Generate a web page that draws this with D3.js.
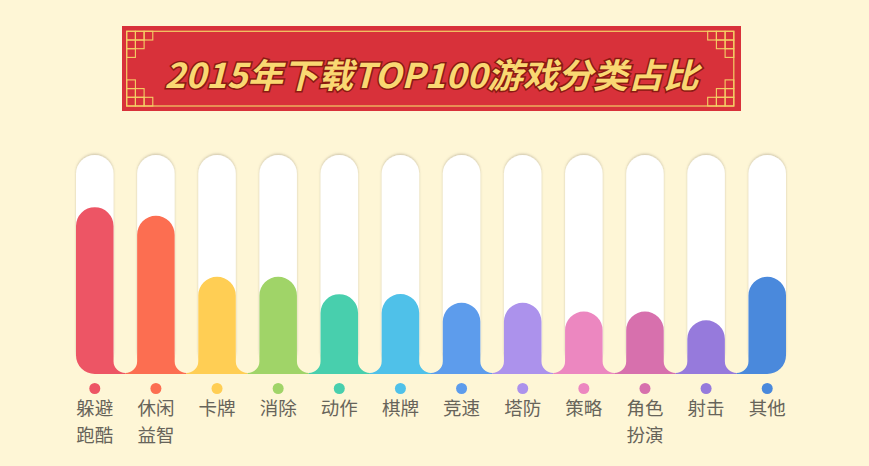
<!DOCTYPE html>
<html>
<head>
<meta charset="utf-8">
<script src="https://cdn.jsdelivr.net/npm/d3@7"></script>
<style>
  html, body { margin: 0; padding: 0; background: #fef6d6; }
  svg { display: block; }
</style>
</head>
<body>
<div id="chart"></div>
<script>
// data (share of TOP100, %)
const categories = ["躲避跑酷", "休闲益智", "卡牌", "消除", "动作", "棋牌", "竞速", "塔防", "策略", "角色扮演", "射击", "其他"];
const values = [17, 16, 9, 9, 7, 7, 6, 6, 5, 5, 4, 9];
const colors = ["#ed5565", "#fc6e51", "#ffce54", "#a0d468", "#48cfad", "#4fc1e9", "#5d9cec", "#ac92ec", "#ec87c0", "#d770ad", "#967adc", "#4a89dc"];
const title = "2015年下载TOP100游戏分类占比";

const width = 869;
const height = 466;
const baseY = 374;

const svg = d3.select("#chart").append("svg")
  .attr("width", width)
  .attr("height", height);

svg.append("rect").attr("width", width).attr("height", height).attr("fill", "#fef6d6");

const defs = svg.append("defs");
const shadow = defs.append("filter").attr("id", "trackShadow")
  .attr("x", "-30%").attr("y", "-10%").attr("width", "160%").attr("height", "130%");
shadow.append("feDropShadow")
  .attr("dx", 0).attr("dy", -1.2).attr("stdDeviation", 1)
  .attr("flood-color", "#7a7060").attr("flood-opacity", 0.35);

// ---- banner ----
const banner = { x: 122, y: 26, w: 619, h: 85 };
const gold = "#f4cf66";
const b = svg.append("g");
b.append("rect")
  .attr("x", banner.x).attr("y", banner.y)
  .attr("width", banner.w).attr("height", banner.h)
  .attr("fill", "#d8313a");

const inner = { x0: 126.7, y0: 31.3, x1: 733.8, y1: 106 };
b.append("rect")
  .attr("x", inner.x0).attr("y", inner.y0)
  .attr("width", inner.x1 - inner.x0).attr("height", inner.y1 - inner.y0)
  .attr("fill", "none").attr("stroke", gold).attr("stroke-width", 1.2);

// lattice corners: staircase of small squares
const cell = 8.7;
const stairs = [[0, 0], [1, 0], [2, 0], [0, 1], [1, 1], [0, 2]];
const corners = [
  { x: inner.x0, y: inner.y0, sx: 1, sy: 1 },
  { x: inner.x1, y: inner.y0, sx: -1, sy: 1 },
  { x: inner.x0, y: inner.y1, sx: 1, sy: -1 },
  { x: inner.x1, y: inner.y1, sx: -1, sy: -1 }
];
corners.forEach(c => {
  b.selectAll(null).data(stairs).enter().append("rect")
    .attr("x", d => c.sx > 0 ? c.x + d[0] * cell : c.x - (d[0] + 1) * cell)
    .attr("y", d => c.sy > 0 ? c.y + d[1] * cell : c.y - (d[1] + 1) * cell)
    .attr("width", cell).attr("height", cell)
    .attr("fill", "none").attr("stroke", gold).attr("stroke-width", 1.1);
});

b.append("text")
  .attr("x", banner.x + banner.w / 2)
  .attr("y", 73)
  .attr("text-anchor", "middle")
  .attr("dominant-baseline", "central")
  .attr("font-family", "'Noto Sans CJK SC', sans-serif")
  .attr("font-size", 34)
  .attr("font-weight", 700)
  .attr("font-style", "italic")
  .attr("textLength", 534)
  .attr("lengthAdjust", "spacingAndGlyphs")
  .attr("fill", "#f9d872")
  .attr("stroke", "#8a1b12")
  .attr("stroke-width", 3)
  .attr("paint-order", "stroke")
  .text(title);

// ---- scales ----
const x = d3.scaleBand()
  .domain(categories)
  .range([76, 786])
  .paddingInner(0.386)
  .paddingOuter(0);

const y = d3.scaleLinear()
  .domain([0, 23])
  .range([355, 155]);

const w = x.bandwidth();
const r = w / 2;
const gapR = (x.step() - w) / 2;

// background tracks
svg.append("g").selectAll("rect").data(categories).enter().append("rect")
  .attr("x", d => x(d))
  .attr("y", y(23))
  .attr("width", w)
  .attr("height", baseY - y(23) - 4)
  .attr("rx", r).attr("ry", r)
  .attr("fill", "#ffffff")
  .attr("filter", "url(#trackShadow)");

// bars with rounded tops and flared bottoms
function barPath(d, i) {
  const x0 = x(d);
  const x1 = x0 + w;
  const top = y(values[i]);
  const p = d3.path();
  const last = categories.length - 1;
  const fy = baseY - 1;
  if (i === 0) {
    p.moveTo(x0 + r, baseY);
    p.arcTo(x0, baseY, x0, baseY - r, r);
  } else {
    p.moveTo(x0 - gapR, baseY);
    p.lineTo(x0 - gapR, fy);
    p.arcTo(x0, fy, x0, fy - gapR, gapR);
  }
  p.lineTo(x0, top + r);
  p.arc(x0 + r, top + r, r, Math.PI, 2 * Math.PI);
  if (i === last) {
    p.lineTo(x1, baseY - r);
    p.arcTo(x1, baseY, x1 - r, baseY, r);
  } else {
    p.lineTo(x1, fy - gapR);
    p.arcTo(x1, fy, x1 + gapR, fy, gapR);
    p.lineTo(x1 + gapR, baseY);
  }
  p.closePath();
  return p.toString();
}

svg.append("g").selectAll("path").data(categories).enter().append("path")
  .attr("d", barPath)
  .attr("fill", (d, i) => colors[i]);

// dots and labels
const lab = svg.append("g");
lab.selectAll("circle").data(categories).enter().append("circle")
  .attr("cx", d => x(d) + r)
  .attr("cy", 388.5)
  .attr("r", 5.5)
  .attr("fill", (d, i) => colors[i]);

const labels = lab.selectAll("text").data(categories).enter().append("text")
  .attr("x", d => x(d) + r)
  .attr("text-anchor", "middle")
  .attr("font-family", "'Noto Sans CJK SC', sans-serif")
  .attr("font-size", 18.5)
  .attr("fill", "#67645a");

labels.each(function (d) {
  const lines = d.length > 2 ? [d.slice(0, 2), d.slice(2)] : [d];
  d3.select(this).selectAll("tspan").data(lines).enter().append("tspan")
    .attr("x", x(d) + r)
    .attr("y", (l, j) => 415 + j * 27)
    .text(l => l);
});
</script>
</body>
</html>
